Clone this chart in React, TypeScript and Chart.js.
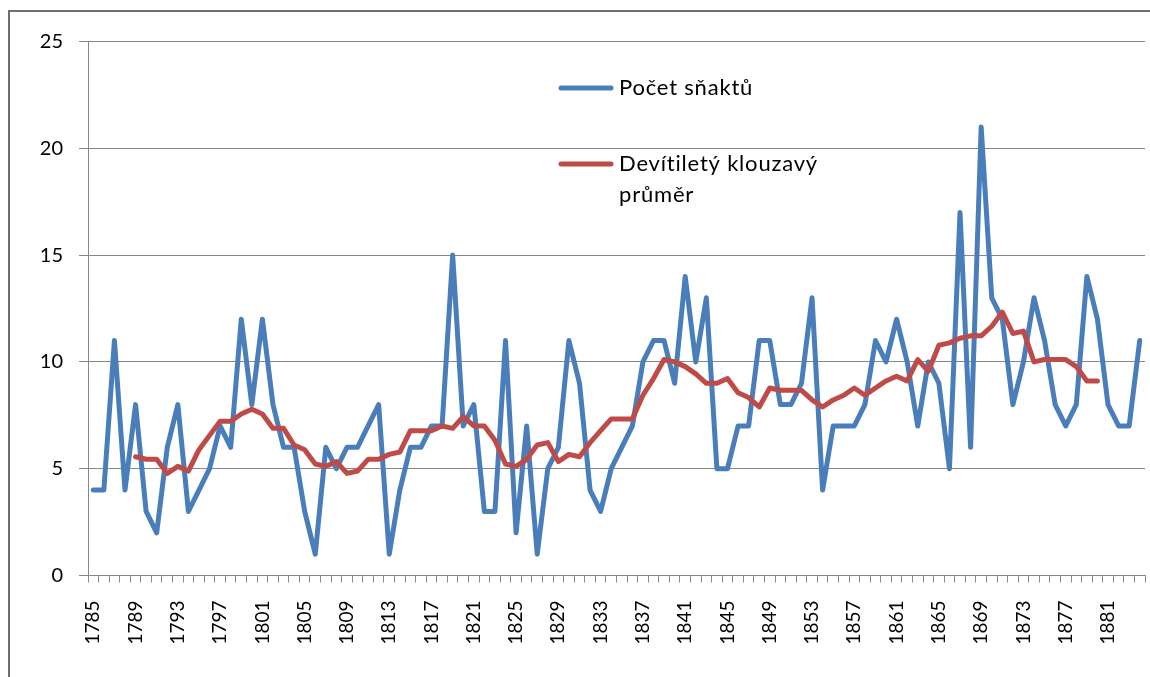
import React, { useEffect, useRef } from "react";
import { Chart, registerables } from "chart.js";

Chart.register(...registerables);

const years = [
  "1785","1786","1787","1788","1789","1790","1791","1792","1793","1794",
  "1795","1796","1797","1798","1799","1800","1801","1802","1803","1804",
  "1805","1806","1807","1808","1809","1810","1811","1812","1813","1814",
  "1815","1816","1817","1818","1819","1820","1821","1822","1823","1824",
  "1825","1826","1827","1828","1829","1830","1831","1832","1833","1834",
  "1835","1836","1837","1838","1839","1840","1841","1842","1843","1844",
  "1845","1846","1847","1848","1849","1850","1851","1852","1853","1854",
  "1855","1856","1857","1858","1859","1860","1861","1862","1863","1864",
  "1865","1866","1867","1868","1869","1870","1871","1872","1873","1874",
  "1875","1876","1877","1878","1879","1880","1881","1882","1883","1884",
];

const pocetSnaktu = [
  4, 4, 11, 4, 8, 3, 2, 6, 8, 3,
  4, 5, 7, 6, 12, 8, 12, 8, 6, 6,
  3, 1, 6, 5, 6, 6, 7, 8, 1, 4,
  6, 6, 7, 7, 15, 7, 8, 3, 3, 11,
  2, 7, 1, 5, 6, 11, 9, 4, 3, 5,
  6, 7, 10, 11, 11, 9, 14, 10, 13, 5,
  5, 7, 7, 11, 11, 8, 8, 9, 13, 4,
  7, 7, 7, 8, 11, 10, 12, 10, 7, 10,
  9, 5, 17, 6, 21, 13, 12, 8, 10, 13,
  11, 8, 7, 8, 14, 12, 8, 7, 7, 11,
];

const klouzavyPrumer = [
  null, null, null, null,
  5.56, 5.44, 5.44, 4.78, 5.11, 4.89, 5.89, 6.56, 7.22, 7.22,
  7.56, 7.78, 7.56, 6.89, 6.89, 6.11, 5.89, 5.22, 5.11, 5.33,
  4.78, 4.89, 5.44, 5.44, 5.67, 5.78, 6.78, 6.78, 6.78, 7.0,
  6.89, 7.44, 7.0, 7.0, 6.33, 5.22, 5.11, 5.44, 6.11, 6.22,
  5.33, 5.67, 5.56, 6.22, 6.78, 7.33, 7.33, 7.33, 8.44, 9.22,
  10.11, 10.0, 9.78, 9.44, 9.0, 9.0, 9.22, 8.56, 8.33, 7.89,
  8.78, 8.67, 8.67, 8.67, 8.22, 7.89, 8.22, 8.44, 8.78, 8.44,
  8.78, 9.11, 9.33, 9.11, 10.11, 9.56, 10.78, 10.89, 11.11, 11.22,
  11.22, 11.67, 12.33, 11.33, 11.44, 10.0, 10.11, 10.11, 10.11, 9.78,
  9.11, 9.11,
  null, null, null, null,
];

const seriesNames = ["Počet sňaktů", "Devítiletý klouzavý", "průměr"];
const yTicks = [0, 5, 10, 15, 20, 25];

const BLUE = "#4A7EBB";
const RED = "#BE4B48";
const GRID = "#878787";
const FRAME = "#6e6e6e";
const FONT = "Lato, 'Open Sans', sans-serif";

const legendPlugin = {
  id: "legendDecor",
  afterDraw(chart: any) {
    const ctx = chart.ctx;
    ctx.save();
    ctx.fillStyle = FRAME;
    ctx.fillRect(8, 10, 1142, 2);
    ctx.fillRect(8, 10, 2, 667);
    ctx.lineCap = "round";
    ctx.lineWidth = 5;
    ctx.strokeStyle = BLUE;
    ctx.beginPath();
    ctx.moveTo(561, 88);
    ctx.lineTo(611, 88);
    ctx.stroke();
    ctx.strokeStyle = RED;
    ctx.beginPath();
    ctx.moveTo(561, 164);
    ctx.lineTo(611, 164);
    ctx.stroke();
    ctx.fillStyle = "#000";
    ctx.font = `22px ${FONT}`;
    try {
      (ctx as any).letterSpacing = "0.8px";
    } catch (e) {}
    ctx.textBaseline = "middle";
    ctx.textAlign = "left";
    ctx.fillText(seriesNames[0], 619, 88);
    ctx.fillText(seriesNames[1], 619, 164);
    ctx.fillText(seriesNames[2], 619, 195);
    ctx.restore();
  },
};

export default function App() {
  const ref = useRef<HTMLCanvasElement | null>(null);

  useEffect(() => {
    if (!ref.current) return;
    const chart = new Chart(ref.current, {
      type: "line",
      data: {
        labels: years,
        datasets: [
          {
            label: seriesNames[0],
            data: pocetSnaktu,
            borderColor: BLUE,
            backgroundColor: BLUE,
            borderWidth: 5,
            pointRadius: 0,
            tension: 0,
            borderJoinStyle: "round",
            borderCapStyle: "round",
            order: 2,
          },
          {
            label: seriesNames[1] + " " + seriesNames[2],
            data: klouzavyPrumer,
            borderColor: RED,
            backgroundColor: RED,
            borderWidth: 5,
            pointRadius: 0,
            tension: 0,
            borderJoinStyle: "round",
            borderCapStyle: "round",
            order: 1,
          },
        ],
      },
      options: {
        animation: false,
        responsive: false,
        maintainAspectRatio: false,
        layout: {
          autoPadding: false,
          padding: { left: 0, right: 5, top: 41.5, bottom: 0 },
        },
        plugins: {
          legend: { display: false },
          tooltip: { enabled: false },
        },
        scales: {
          x: {
            type: "category",
            offset: true,
            grid: {
              offset: true,
              drawOnChartArea: false,
              drawTicks: true,
              tickLength: 7,
              color: GRID,
            },
            border: { display: true, color: GRID },
            ticks: {
              autoSkip: false,
              minRotation: 90,
              maxRotation: 90,
              padding: 18,
              color: "#000",
              font: { family: FONT, size: 19 },
              callback: (_v: any, i: number) => (i % 4 === 0 ? years[i] : ""),
            },
            afterFit(scale: any) {
              scale.height = 101.5;
              scale.paddingLeft = 0;
              scale.paddingRight = 0;
            },
          },
          y: {
            min: 0,
            max: 25,
            afterBuildTicks(scale: any) {
              scale.ticks = yTicks.map((v) => ({ value: v }));
            },
            grid: {
              color: GRID,
              drawTicks: true,
              tickLength: 9,
            },
            border: { display: true, color: GRID },
            ticks: {
              padding: 16,
              color: "#000",
              font: { family: FONT, size: 20 },
            },
            afterFit(scale: any) {
              scale.width = 88;
              scale.paddingTop = 0;
              scale.paddingBottom = 0;
            },
          },
        },
      },
      plugins: [legendPlugin],
    });
    return () => chart.destroy();
  }, []);

  return (
    <div
      style={{
        position: "absolute",
        left: 0,
        top: 0,
        width: 1150,
        height: 677,
        overflow: "hidden",
        background: "#fff",
      }}
    >
      <canvas ref={ref} width={1150} height={677} style={{ display: "block" }} />
      <div
        style={{
          position: "absolute",
          left: 8,
          top: 10,
          width: 1160,
          height: 680,
          borderTop: `2px solid ${FRAME}`,
          borderLeft: `2px solid ${FRAME}`,
          zIndex: 5,
          pointerEvents: "none",
        }}
      />
    </div>
  );
}
